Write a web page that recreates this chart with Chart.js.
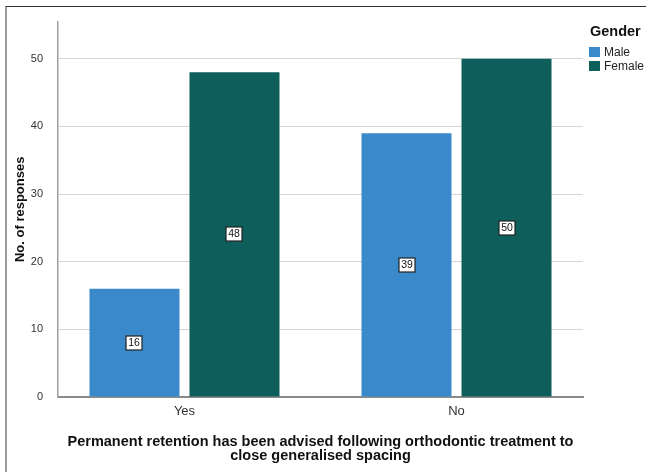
<!DOCTYPE html>
<html>
<head>
<meta charset="utf-8">
<title>Permanent retention by gender</title>
<script src="https://cdn.jsdelivr.net/npm/chart.js@4.4.1/dist/chart.umd.min.js"></script>
<style>
  html, body { margin:0; padding:0; background:#fff; }
  .wrap { position:relative; width:646px; height:472px; overflow:hidden; }
  .frame { position:absolute; left:5px; top:6px; right:-4px; bottom:-4px;
           border-top:1px solid #333; border-left:2px solid #9a9a9a; }
  #chart { position:absolute; left:0; top:0; }
</style>
</head>
<body>
<div class="wrap">
  <div class="frame"></div>
  <canvas id="chart" width="646" height="472"></canvas>
</div>
<script>
/* ======== DATA ======== */
const categories = ['Yes', 'No'];
const maleValues = [16, 39];
const femaleValues = [48, 50];
const seriesNames = ['Male', 'Female'];
const yTicks = [0, 10, 20, 30, 40, 50];

const FONT = '"Liberation Sans", Arial, sans-serif';
const COLORS = ['#3a8acb', '#0e5e5b'];

/* ======== PLUGINS ======== */
// boxed value label in the middle of every bar
const barLabels = {
  id: 'barLabels',
  afterDatasetsDraw(chart){
    const ctx = chart.ctx;
    ctx.save();
    ctx.font = '10.5px ' + FONT;
    ctx.textAlign = 'center';
    ctx.textBaseline = 'middle';
    chart.data.datasets.forEach((ds, di)=>{
      chart.getDatasetMeta(di).data.forEach((bar, i)=>{
        const txt = String(ds.data[i].y);
        const cx = Math.round(bar.x), cy = Math.round((bar.y + bar.base) / 2);
        const w = Math.ceil(ctx.measureText(txt).width) + 4, h = 14;
        ctx.fillStyle = '#fff';
        ctx.fillRect(cx - w/2, cy - h/2, w, h);
        ctx.strokeStyle = '#222';
        ctx.lineWidth = 1.2;
        ctx.strokeRect(cx - w/2, cy - h/2, w, h);
        ctx.fillStyle = '#111';
        ctx.fillText(txt, cx, cy + 0.5);
      });
    });
    ctx.restore();
  }
};

// legend block at the top right
const sideLegend = {
  id: 'sideLegend',
  afterDraw(chart){
    const ctx = chart.ctx;
    ctx.save();
    ctx.textAlign = 'left';
    ctx.textBaseline = 'middle';
    ctx.fillStyle = '#111';
    ctx.font = 'bold 14.5px ' + FONT;
    ctx.fillText('Gender', 590, 32);
    ctx.font = '12px ' + FONT;
    chart.data.datasets.forEach((ds, i)=>{
      const top = 47 + i * 14;
      ctx.fillStyle = ds.backgroundColor;
      ctx.fillRect(589, top, 11, 10);
      ctx.fillStyle = '#222';
      ctx.fillText(ds.label, 604, top + 6);
    });
    ctx.restore();
  }
};

/* ======== CHART ======== */
const ctx = document.getElementById('chart');
new Chart(ctx, {
  type: 'bar',
  data: {
    datasets: [
      { label: seriesNames[0], data: maleValues.map((v,i)=>({ x:i, y:v })), backgroundColor: COLORS[0] },
      { label: seriesNames[1], data: femaleValues.map((v,i)=>({ x:i, y:v })), backgroundColor: COLORS[1] }
    ]
  },
  options: {
    responsive: false,
    animation: false,
    categoryPercentage: 200 / 272,
    barPercentage: 0.9,
    layout: { padding: { left:0, top:17, right:63, bottom:0 } },
    plugins: { legend: { display:false }, tooltip: { enabled:false } },
    scales: {
      x: {
        type: 'linear',
        offset: false,
        min: -0.465, max: 1.465,
        afterBuildTicks: s => { s.ticks = categories.map((c,i)=>({ value:i })); },
        afterFit: s => { s.height = 75; },
        grid: { display:false, drawTicks:false },
        border: { display:true, color:'#8a8a8a', width:2 },
        ticks: {
          padding: 7,
          color: '#333',
          font: { family: FONT, size: 13 },
          callback: v => categories[v]
        },
        title: {
          display: true,
          text: ['Permanent retention has been advised following orthodontic treatment to',
                 'close generalised spacing'],
          color: '#111',
          font: { family: FONT, size: 14.5, weight: 'bold', lineHeight: 0.99 },
          padding: { top:0, bottom:8.5 }
        }
      },
      y: {
        min: 0, max: 55.5,
        afterBuildTicks: s => { s.ticks = yTicks.map(v=>({ value:v })); },
        afterFit: s => { s.width = 58; },
        grid: { color:'#d6d6d6', lineWidth:1, drawTicks:false },
        border: { display:true, color:'#a0a0a0', width:1.5 },
        ticks: {
          padding: 15,
          color: '#333',
          font: { family: FONT, size: 11 }
        },
        title: {
          display: true,
          text: 'No. of responses',
          color: '#111',
          font: { family: FONT, size: 13, weight: 'bold' },
          padding: { top:13, bottom:0 }
        }
      }
    }
  },
  plugins: [barLabels, sideLegend]
});
</script>
</body>
</html>
